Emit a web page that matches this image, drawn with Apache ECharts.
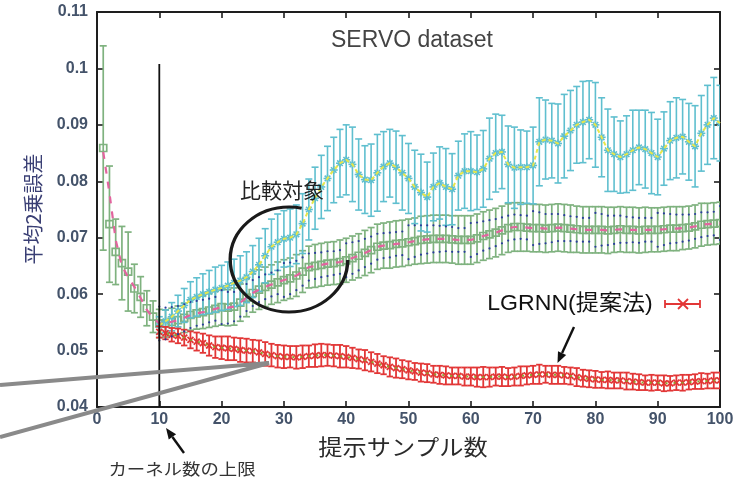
<!DOCTYPE html>
<html><head><meta charset="utf-8">
<script src="https://cdn.jsdelivr.net/npm/echarts@6/dist/echarts.min.js"></script>
<style>html,body{margin:0;padding:0;background:#fff}#c{width:744px;height:479px}</style>
</head><body><div id="c"></div><script>
// ---- data ----
const xTickLabels = ['0','10','20','30','40','50','60','70','80','90','100'];
const yTickLabels = ['0.04','0.05','0.06','0.07','0.08','0.09','0.1','0.11'];
const greenStart = 1;   // first sample count of the green series
const otherStart = 10;  // first sample count of cyan / red series
// green (squares + error bars), x = 1..100
const greenMean = [
0.0859,0.0724,0.0675,0.0655,0.0640,0.0610,0.0595,0.0575,0.0560,0.0548,
0.0548,0.0551,0.0554,0.0558,0.0563,0.0566,0.0568,0.0571,0.0574,0.0577,
0.0576,0.0578,0.0585,0.0594,0.0602,0.0608,0.0613,0.0617,0.0621,0.0625,
0.0628,0.0633,0.0640,0.0648,0.0650,0.0652,0.0654,0.0655,0.0657,0.0660,
0.0664,0.0668,0.0673,0.0678,0.0684,0.0686,0.0687,0.0689,0.0690,0.0692,
0.0694,0.0696,0.0697,0.0698,0.0698,0.0698,0.0697,0.0696,0.0696,0.0696,
0.0699,0.0703,0.0706,0.0709,0.0713,0.0717,0.0719,0.0719,0.0718,0.0717,
0.0717,0.0716,0.0717,0.0718,0.0717,0.0716,0.0715,0.0714,0.0714,0.0714,
0.0714,0.0713,0.0714,0.0715,0.0714,0.0714,0.0713,0.0714,0.0714,0.0714,
0.0715,0.0716,0.0716,0.0717,0.0718,0.0720,0.0723,0.0724,0.0725,0.0726];
const greenErr = [
0.0181,0.0103,0.0058,0.0065,0.0070,0.0043,0.0036,0.0031,0.0028,0.0025,
0.0024,0.0024,0.0025,0.0026,0.0027,0.0028,0.0029,0.0030,0.0031,0.0032,
0.0032,0.0033,0.0033,0.0034,0.0034,0.0035,0.0035,0.0035,0.0036,0.0036,
0.0036,0.0037,0.0037,0.0037,0.0038,0.0038,0.0038,0.0038,0.0039,0.0039,
0.0039,0.0039,0.0040,0.0040,0.0040,0.0040,0.0041,0.0041,0.0041,0.0041,
0.0041,0.0042,0.0042,0.0042,0.0042,0.0042,0.0042,0.0043,0.0043,0.0043,
0.0043,0.0043,0.0043,0.0043,0.0043,0.0043,0.0043,0.0043,0.0042,0.0042,
0.0042,0.0042,0.0042,0.0042,0.0042,0.0042,0.0041,0.0041,0.0041,0.0041,
0.0041,0.0041,0.0040,0.0040,0.0040,0.0040,0.0040,0.0040,0.0039,0.0039,
0.0039,0.0039,0.0039,0.0038,0.0038,0.0038,0.0038,0.0037,0.0037,0.0037];
// pink dashed mean line: first ten samples (afterwards follows the green mean)
const pinkEarly = [0.0852,0.0779,0.0696,0.0650,0.0630,0.0613,0.0593,0.0572,0.0558,0.0548];
// cyan (stars + error bars), x = 10..100
const cyanMean = [
0.0545,0.0552,0.0560,0.0570,0.0580,0.0590,0.0595,0.0600,0.0604,0.0608,
0.0611,0.0615,0.0620,0.0624,0.0630,0.0640,0.0652,0.0668,0.0684,0.0692,
0.0698,0.0700,0.0706,0.0725,0.0750,0.0770,0.0790,0.0805,0.0820,0.0832,
0.0838,0.0830,0.0812,0.0803,0.0802,0.0815,0.0826,0.0832,0.0825,0.0815,
0.0805,0.0790,0.0780,0.0772,0.0790,0.0797,0.0790,0.0786,0.0810,0.0818,
0.0818,0.0816,0.0822,0.0840,0.0850,0.0852,0.0830,0.0824,0.0825,0.0825,
0.0828,0.0870,0.0874,0.0872,0.0867,0.0880,0.0890,0.0900,0.0905,0.0909,
0.0900,0.0878,0.0855,0.0848,0.0843,0.0848,0.0855,0.0860,0.0857,0.0850,
0.0843,0.0858,0.0872,0.0877,0.0879,0.0870,0.0862,0.0885,0.0900,0.0912,
0.0903];
const cyanErr = [
0.0015,0.0020,0.0025,0.0028,0.0030,0.0032,0.0034,0.0036,0.0038,0.0040,
0.0040,0.0042,0.0042,0.0044,0.0045,0.0046,0.0047,0.0048,0.0049,0.0050,
0.0050,0.0051,0.0052,0.0053,0.0054,0.0055,0.0056,0.0057,0.0058,0.0060,
0.0062,0.0066,0.0063,0.0060,0.0064,0.0068,0.0062,0.0060,0.0064,0.0066,
0.0062,0.0065,0.0068,0.0062,0.0060,0.0064,0.0068,0.0063,0.0061,0.0066,
0.0070,0.0066,0.0068,0.0072,0.0069,0.0065,0.0068,0.0072,0.0066,0.0064,
0.0068,0.0078,0.0070,0.0066,0.0070,0.0074,0.0071,0.0068,0.0072,0.0069,
0.0075,0.0070,0.0073,0.0066,0.0064,0.0068,0.0071,0.0066,0.0069,0.0072,
0.0067,0.0065,0.0069,0.0071,0.0066,0.0068,0.0072,0.0067,0.0070,0.0072,
0.0067];
// red LGRNN (x marks + error bars), x = 10..100
const redMean = [
0.0533,0.0531,0.0528,0.0526,0.0523,0.0519,0.0516,0.0513,0.0509,0.0506,
0.0505,0.0504,0.0503,0.0501,0.0500,0.0499,0.0497,0.0494,0.0492,0.0490,
0.0489,0.0489,0.0488,0.0489,0.0490,0.0491,0.0492,0.0492,0.0491,0.0490,
0.0489,0.0487,0.0485,0.0483,0.0480,0.0477,0.0474,0.0471,0.0469,0.0467,
0.0465,0.0463,0.0461,0.0460,0.0458,0.0457,0.0456,0.0455,0.0455,0.0454,
0.0454,0.0453,0.0453,0.0453,0.0454,0.0454,0.0453,0.0454,0.0455,0.0456,
0.0457,0.0458,0.0458,0.0457,0.0457,0.0456,0.0455,0.0453,0.0451,0.0450,
0.0449,0.0448,0.0448,0.0447,0.0447,0.0446,0.0445,0.0444,0.0443,0.0443,
0.0443,0.0442,0.0442,0.0443,0.0443,0.0444,0.0445,0.0446,0.0446,0.0447,
0.0447];
const redErr = [
0.0010,0.0011,0.0012,0.0013,0.0014,0.0015,0.0016,0.0017,0.0018,0.0019,
0.0020,0.0021,0.0020,0.0021,0.0021,0.0020,0.0021,0.0021,0.0020,0.0020,
0.0020,0.0019,0.0020,0.0020,0.0019,0.0020,0.0020,0.0019,0.0019,0.0020,
0.0019,0.0018,0.0017,0.0018,0.0017,0.0017,0.0016,0.0017,0.0017,0.0016,
0.0016,0.0015,0.0016,0.0016,0.0015,0.0016,0.0016,0.0015,0.0015,0.0016,
0.0016,0.0017,0.0018,0.0017,0.0016,0.0017,0.0016,0.0016,0.0017,0.0016,
0.0016,0.0017,0.0015,0.0016,0.0016,0.0015,0.0015,0.0016,0.0015,0.0015,
0.0015,0.0014,0.0015,0.0014,0.0014,0.0015,0.0014,0.0014,0.0013,0.0014,
0.0013,0.0014,0.0013,0.0013,0.0014,0.0013,0.0013,0.0014,0.0013,0.0014,
0.0014];
// small dark-blue dotted error series around the green mean (half-widths)
const blueErr = [0.0030,0.0028,0.0026,0.0025,0.0024,0.0023,0.0022,0.0022,0.0021,0.0021];
const kernelLine = [[10,0.04],[10,0.1008]];

// ---- build ----
const greenX = greenMean.map((_, i) => greenStart + i);
const otherX = cyanMean.map((_, i) => otherStart + i);
const pinkLine = greenX.map((x, i) => [x, i < pinkEarly.length ? pinkEarly[i] : greenMean[i]]);
const cyanLine = otherX.map((x, i) => [x, cyanMean[i]]);
const redLine = otherX.map((x, i) => [x, redMean[i]]);
const greenData = greenX.map((x, i) => [x, greenMean[i], greenErr[i]]);
const cyanData = otherX.map((x, i) => [x, cyanMean[i], cyanErr[i]]);
const redData = otherX.map((x, i) => [x, redMean[i], redErr[i]]);
const blueData = greenX.filter(x => x >= 10).map(x => [x, greenMean[x-1], blueErr[x % blueErr.length]]);

const C_GREEN = '#7fb27f', C_CYAN = '#5fbfcf', C_RED = '#e23636';

function errSeries(name, data, color, marker, capW, mSize, z, lw) {
  return {
    type: 'custom', name, data, z, silent: true, clip: true,
    encode: { x: 0, y: 1 },
    renderItem(params, api) {
      const x = api.value(0), c = api.value(1), e = api.value(2);
      const p = api.coord([x, c]), t = api.coord([x, c + e]), b = api.coord([x, c - e]);
      const st = { stroke: color, lineWidth: lw, fill: null };
      const ch = [
        { type: 'line', shape: { x1: p[0], y1: t[1], x2: p[0], y2: b[1] }, style: st },
        { type: 'line', shape: { x1: p[0] - capW, y1: t[1], x2: p[0] + capW, y2: t[1] }, style: st },
        { type: 'line', shape: { x1: p[0] - capW, y1: b[1], x2: p[0] + capW, y2: b[1] }, style: st }
      ];
      const h = mSize / 2;
      if (marker === 'square') {
        ch.push({ type: 'rect', shape: { x: p[0] - h, y: p[1] - h, width: mSize, height: mSize }, style: st });
      } else if (marker === 'star') {
        ch.push({ type: 'line', shape: { x1: p[0] - h, y1: p[1], x2: p[0] + h, y2: p[1] }, style: st });
        ch.push({ type: 'line', shape: { x1: p[0], y1: p[1] - h, x2: p[0], y2: p[1] + h }, style: st });
        ch.push({ type: 'line', shape: { x1: p[0] - h*0.7, y1: p[1] - h*0.7, x2: p[0] + h*0.7, y2: p[1] + h*0.7 }, style: st });
        ch.push({ type: 'line', shape: { x1: p[0] - h*0.7, y1: p[1] + h*0.7, x2: p[0] + h*0.7, y2: p[1] - h*0.7 }, style: st });
      } else if (marker === 'x') {
        ch.push({ type: 'line', shape: { x1: p[0] - h, y1: p[1] - h, x2: p[0] + h, y2: p[1] + h }, style: st });
        ch.push({ type: 'line', shape: { x1: p[0] - h, y1: p[1] + h, x2: p[0] + h, y2: p[1] - h }, style: st });
      }
      return { type: 'group', children: ch };
    }
  };
}

const blueSeries = {
  type: 'custom', data: blueData, z: 6, silent: true, clip: true, encode: { x: 0, y: 1 },
  renderItem(params, api) {
    const x = api.value(0), c = api.value(1), e = api.value(2);
    const t = api.coord([x, c + e]), b = api.coord([x, c - e]);
    const st = { fill: '#2a3c9c' };
    return { type: 'group', children: [
      { type: 'circle', shape: { cx: t[0], cy: t[1], r: 1.1 }, style: st },
      { type: 'circle', shape: { cx: b[0], cy: b[1], r: 1.1 }, style: st }
    ]};
  }
};

function arrow(x1, y1, x2, y2, hl, hw) {
  const dx = x2 - x1, dy = y2 - y1, L = Math.hypot(dx, dy), ux = dx / L, uy = dy / L;
  const bx = x2 - ux * hl, by = y2 - uy * hl, nx = -uy, ny = ux;
  return [
    { type: 'line', z: 100, shape: { x1, y1, x2: bx, y2: by }, style: { stroke: '#111', lineWidth: 2.4 } },
    { type: 'polygon', z: 100, shape: { points: [[x2, y2], [bx + nx*hw, by + ny*hw], [bx - nx*hw, by - ny*hw]] }, style: { fill: '#111' } }
  ];
}

const labelColor = '#44536a';
const axisCommon = {
  axisLine: { show: true, onZero: false, lineStyle: { color: '#1e1e1e', width: 2 } },
  axisTick: { show: true, inside: true, length: 6, lineStyle: { color: '#1e1e1e', width: 1.6 } },
  splitLine: { show: false }
};
const lbl = { color: labelColor, fontSize: 16, fontWeight: 'bold', fontFamily: 'Liberation Sans, Arial' };

const option = {
  animation: false,
  backgroundColor: '#fff',
  grid: { left: 97, right: 24, top: 12, bottom: 72 },
  xAxis: [
    Object.assign({ type: 'value', min: 0, max: 100, interval: 10, position: 'bottom',
      axisLabel: Object.assign({ margin: 5, formatter: v => xTickLabels[Math.round(v / 10)] }, lbl) }, axisCommon),
    Object.assign({ type: 'value', min: 0, max: 100, interval: 10, position: 'top',
      axisLabel: { show: false } }, axisCommon)
  ],
  yAxis: [
    Object.assign({ type: 'value', min: 0.04, max: 0.11, interval: 0.01, position: 'left',
      axisLabel: Object.assign({ margin: 9, formatter: v => yTickLabels[Math.round((v - 0.04) / 0.01)] }, lbl) }, axisCommon),
    Object.assign({ type: 'value', min: 0.04, max: 0.11, interval: 0.01, position: 'right',
      axisLabel: { show: false } }, axisCommon)
  ],
  series: [
    errSeries('green', greenData, C_GREEN, 'square', 3.5, 7, 2, 1.7),
    errSeries('cyan', cyanData, C_CYAN, 'star', 3.5, 8, 3, 1.6),
    errSeries('LGRNN', redData, C_RED, 'x', 3.2, 6, 4, 1.8),
    blueSeries,
    { type: 'line', data: pinkLine, z: 7, showSymbol: false, silent: true,
      lineStyle: { color: '#e2649e', width: 2.2, type: [7, 8] } },
    { type: 'line', data: cyanLine, z: 7, showSymbol: false, silent: true,
      lineStyle: { color: '#e8e64a', width: 2, type: [4, 3] } },
    { type: 'line', data: redLine, z: 7, showSymbol: false, silent: true,
      lineStyle: { color: '#8e9e2c', width: 2, type: [2, 6] } },
    { type: 'line', data: kernelLine, z: 8, showSymbol: false, silent: true,
      lineStyle: { color: '#111', width: 1.8 } }
  ],
  graphic: [
    { type: 'text', z: 100, x: 412, y: 41, style: { text: 'SERVO dataset', font: '23px "Liberation Sans", Arial',
      fill: '#444', textAlign: 'center', textVerticalAlign: 'middle', align: 'center', verticalAlign: 'middle' } },
    { type: 'text', z: 100, x: 282, y: 190, style: { text: '比較対象', font: '21px "Noto Sans CJK JP"',
      fill: '#222', textAlign: 'center', textVerticalAlign: 'middle', align: 'center', verticalAlign: 'middle' } },
    { type: 'arc', z: 100, x: 289, y: 259.5, scaleX: 1.12,
      shape: { cx: 0, cy: 0, r: 52.5, startAngle: 0.01, endAngle: 4.93, clockwise: true },
      style: { stroke: '#1a1a1a', lineWidth: 3, fill: null } },
    { type: 'text', z: 100, x: 570, y: 304, scaleX: 1.05, style: { text: 'LGRNN(提案法)',
      font: '22px "Liberation Sans", "Noto Sans CJK JP"', fill: '#111', textAlign: 'center', textVerticalAlign: 'middle',
      align: 'center', verticalAlign: 'middle' } },
    { type: 'line', z: 100, shape: { x1: 665, y1: 304, x2: 700, y2: 304 }, style: { stroke: C_RED, lineWidth: 1.8 } },
    { type: 'line', z: 100, shape: { x1: 665, y1: 300, x2: 665, y2: 308 }, style: { stroke: C_RED, lineWidth: 1.8 } },
    { type: 'line', z: 100, shape: { x1: 700, y1: 300, x2: 700, y2: 308 }, style: { stroke: C_RED, lineWidth: 1.8 } },
    { type: 'line', z: 100, shape: { x1: 678, y1: 299, x2: 688, y2: 309 }, style: { stroke: C_RED, lineWidth: 1.8 } },
    { type: 'line', z: 100, shape: { x1: 678, y1: 309, x2: 688, y2: 299 }, style: { stroke: C_RED, lineWidth: 1.8 } },
    ...arrow(574, 327, 557.5, 363, 11, 4.5),
    ...arrow(184, 453, 166, 428, 11, 4.5),
    { type: 'polyline', z: 110, shape: { points: [[0, 385], [269, 363], [0, 437]] },
      style: { stroke: '#8a8a8a', lineWidth: 4, fill: null, lineJoin: 'miter' } },
    { type: 'text', z: 100, x: 182, y: 469, scaleX: 1.15, style: { text: 'カーネル数の上限',
      font: '16px "Noto Sans CJK JP"', fill: '#333', textAlign: 'center', textVerticalAlign: 'middle',
      align: 'center', verticalAlign: 'middle' } },
    { type: 'text', z: 100, x: 403, y: 447, scaleX: 1.1, style: { text: '提示サンプル数',
      font: '22px "Noto Sans CJK JP"', fill: '#2a2a2a', textAlign: 'center', textVerticalAlign: 'middle',
      align: 'center', verticalAlign: 'middle' } },
    { type: 'text', z: 100, x: 33, y: 209, rotation: Math.PI / 2, style: { text: '平均2乗誤差',
      font: '20px "Noto Sans CJK JP"', fill: '#3a3f74', textAlign: 'center', textVerticalAlign: 'middle',
      align: 'center', verticalAlign: 'middle' } }
  ]
};
const chart = echarts.init(document.getElementById('c'));
chart.setOption(option);
</script></body></html>
